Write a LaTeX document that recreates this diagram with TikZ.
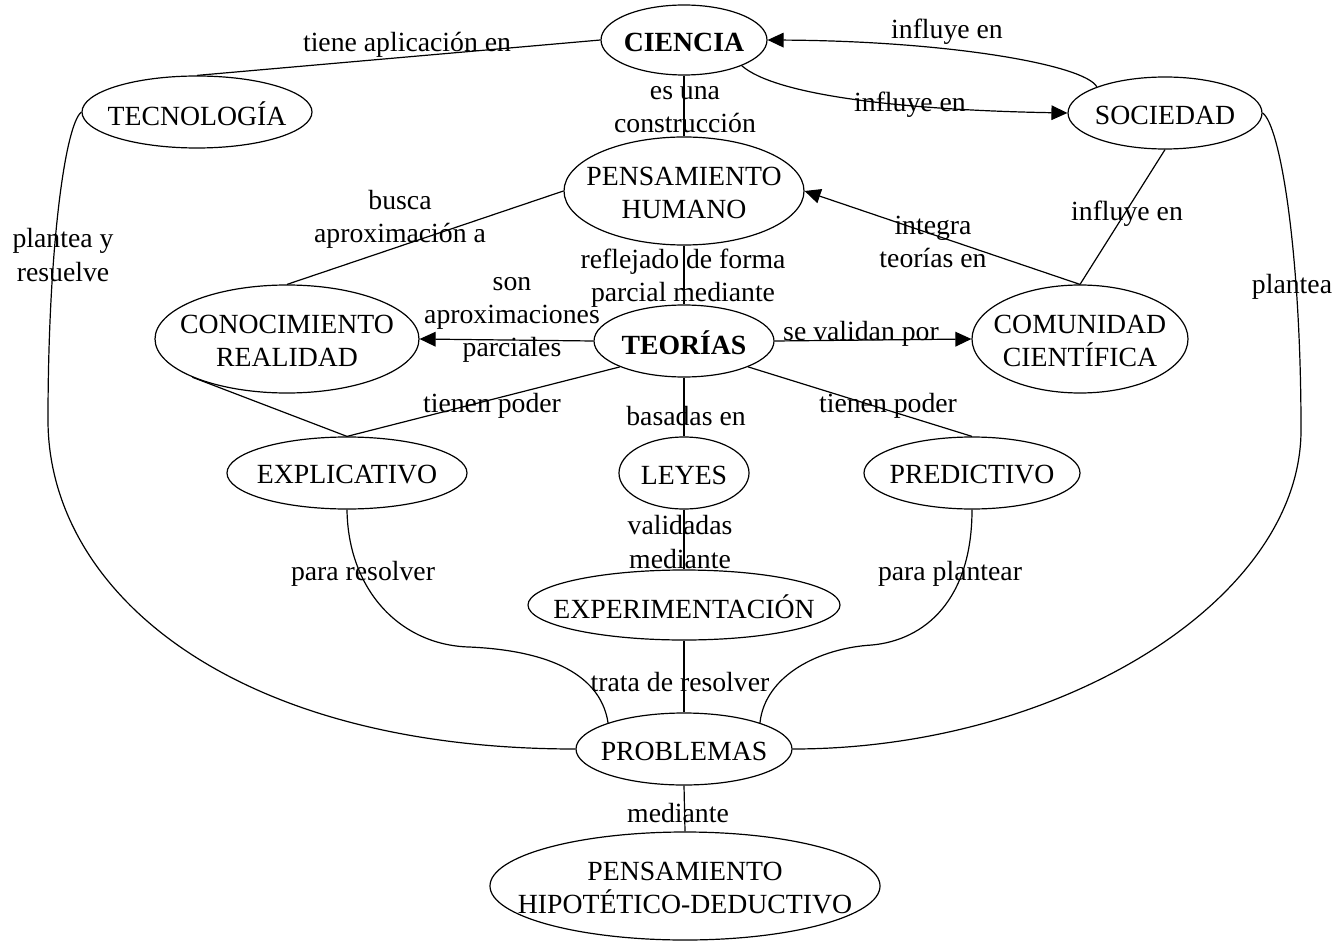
\documentclass[tikz,border=0pt]{standalone}
\usepackage{fontspec}
\setmainfont{Liberation Serif}
\usetikzlibrary{shapes.geometric,arrows.meta}
\tikzset{
  every node/.style={font=\fontsize{20.8}{24.8}\selectfont},
  ell/.style n args={3}{draw, ellipse, line width=0.9pt, inner sep=0pt,
    minimum width=#1*1.5pt, minimum height=#2*1.5pt,
    label={[align=center,inner sep=0pt,yshift=-1.5pt]center:{#3}}},
  lab/.style={align=center, inner sep=0pt, yshift=-1.5pt},
  link/.style={line width=0.9pt},
  arr/.style={link, -{Triangle[length=12pt,width=11pt]}},
}
\begin{document}
\begin{tikzpicture}[x=0.75pt,y=-0.75pt]
\useasboundingbox (0,0) rectangle (1337,941);
% nodes
\node[ell={83}{35}{\textbf{CIENCIA}}] (cien) at (684,40) {};
\node[ell={115}{36}{TECNOLOGÍA}] (tec) at (197,112) {};
\node[ell={97}{36}{SOCIEDAD}] (soc) at (1165,113) {};
\node[ell={120}{54}{PENSAMIENTO\\HUMANO}] (ph) at (684,191) {};
\node[ell={132}{54}{CONOCIMIENTO\\REALIDAD}] (cono) at (287,339) {};
\node[ell={90}{36}{\textbf{TEORÍAS}}] (teo) at (684,341) {};
\node[ell={108}{54}{COMUNIDAD\\CIENTÍFICA}] (com) at (1080,339) {};
\node[ell={120}{36}{EXPLICATIVO}] (expl) at (347,473) {};
\node[ell={65}{36}{LEYES}] (ley) at (684,473) {};
\node[ell={108}{36}{PREDICTIVO}] (pred) at (972,473) {};
\node[ell={156}{35}{EXPERIMENTACIÓN}] (expm) at (684,605) {};
\node[ell={108}{36}{PROBLEMAS}] (prob) at (684,749) {};
\node[ell={195}{54}{PENSAMIENTO\\HIPOTÉTICO-DEDUCTIVO}] (phd) at (685,886) {};
% connectors
\draw[link] (tec.north) -- (cien.west);
\draw[arr] (cien.-24) .. controls (775,95) and (900,110) .. (soc.west);
\draw[arr] (soc.159) .. controls (1085,65) and (950,41) .. (cien.east);
\draw[link] (cien.south) -- (ph.north);
\draw[link] (ph.west) -- (cono.north);
\draw[arr] (com.north) -- (ph.east);
\draw[link] (soc.south) -- (com.north);
\draw[link] (ph.south) -- (teo.north);
\draw[arr] (teo.west) -- (cono.east);
\draw[arr] (teo.east) -- (com.west);
\draw[link] (teo.202) -- (expl.north);
\draw[link] (cono.202) -- (expl.north);
\draw[link] (teo.south) -- (ley.north);
\draw[link] (teo.-22) -- (pred.north);
\draw[link] (ley.south) -- (expm.north);
\draw[link] (expm.south) -- (prob.north);
\draw[link] (prob.south) -- (phd.north);
\draw[link] (expl.south) .. controls (348,590) and (400,645) .. (469,647)
  .. controls (540,650) and (600,670) .. (prob.161);
\draw[link] (pred.south) .. controls (972,600) and (925,640) .. (872,645)
  .. controls (820,648) and (765,675) .. (prob.19);
\draw[link] (tec.west) .. controls (65,125) and (48,250) .. (48,420)
  .. controls (48,590) and (230,749) .. (prob.west);
\draw[link] (soc.east) .. controls (1280,125) and (1301,250) .. (1301,430)
  .. controls (1301,600) and (1060,749) .. (prob.east);
% labels
\node[lab] (l1) at (407,43) {tiene aplicación en};
\node[lab] (l2) at (947,30) {influye en};
\node[lab] (l3) at (910,103) {influye en};
\node[lab] (l4) at (685,108) {es una\\construcción};
\node[lab] (l5) at (400,217) {busca\\aproximación a};
\node[lab] (l6) at (933,240) {integra\\teorías en};
\node[lab] (l7) at (1127,212) {influye en};
\node[lab] (l8) at (63,253) {plantea y\\resuelve};
\node[lab] (l9) at (1292,285) {plantea};
\node[lab] (l10) at (683,276) {reflejado de forma\\parcial mediante};
\node[lab] (l11) at (512,318) {son\\aproximaciones\\parciales};
\node[lab] (l12) at (861,332) {se validan por};
\node[lab] (l13) at (492,404) {tienen poder};
\node[lab] (l14) at (888,404) {tienen poder};
\node[lab] (l15) at (686,414) {basadas en};
\node[lab] (l16) at (680,540) {validadas\\mediante};
\node[lab] (l17) at (363,572) {para resolver};
\node[lab] (l18) at (950,572) {para plantear};
\node[lab] (l19) at (680,680) {trata de resolver};
\node[lab] (l20) at (678,811) {mediante};
\end{tikzpicture}
\end{document}
